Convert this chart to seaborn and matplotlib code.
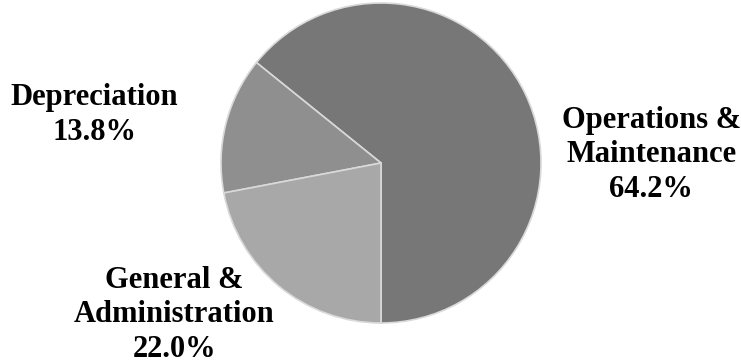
import matplotlib
matplotlib.use("Agg")
import matplotlib.pyplot as plt
import seaborn as sns

sns.set_theme(style="white")
plt.rcParams['font.family'] = ['Liberation Serif', 'DejaVu Serif']

categories = ["Operations &\nMaintenance", "Depreciation", "General &\nAdministration"]
values = [64.2, 13.8, 22.0]
colors = ["#777777", "#8f8f8f", "#a8a8a8"]
label_pos = [(1.69, 0.05), (-1.79, 0.30), (-1.29, -0.95)]

fig = plt.figure(figsize=(7.41, 3.64), dpi=100)
W, H = 741, 364
cx, cy, r = 381, 163, 160
ax = fig.add_axes([(cx - r) / W, (H - cy - r) / H, 2 * r / W, 2 * r / H])
wedges, _ = ax.pie(values, colors=colors, startangle=270, counterclock=True,
                   wedgeprops=dict(edgecolor="#d9d9d9", linewidth=1.2),
                   radius=1.0)
ax.set_xlim(-1, 1)
ax.set_ylim(-1, 1)
ax.set_aspect("equal")
ax.axis("off")

for cat, val, (x, y) in zip(categories, values, label_pos):
    ax.text(x, y, f"{cat}\n{val:.1f}%", ha="center", va="center",
            fontsize=22, fontweight="bold", color="black",
            linespacing=1.25, clip_on=False)

fig.savefig("out.png", dpi=100)
